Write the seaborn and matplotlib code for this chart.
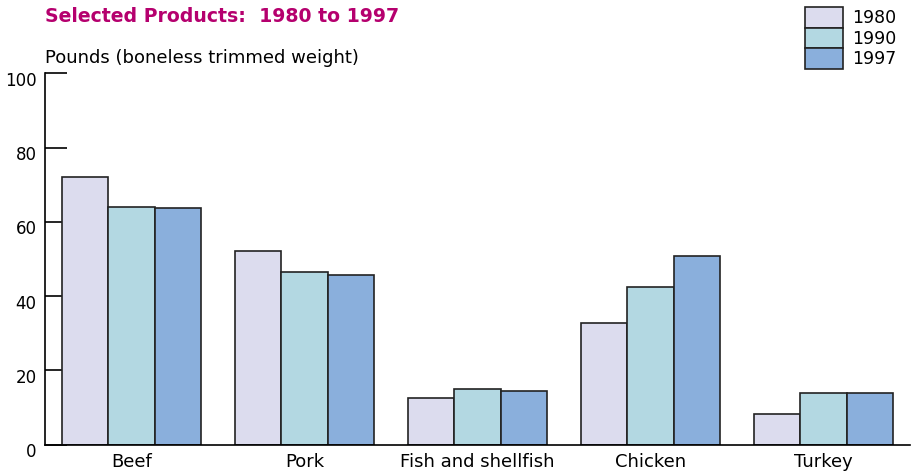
import pandas as pd
import seaborn as sns
import matplotlib.pyplot as plt
import matplotlib.transforms as mtransforms

# data
products = ["Beef", "Pork", "Fish and shellfish", "Chicken", "Turkey"]
years = ["1980", "1990", "1997"]
pounds_1980 = [72.1, 52.1, 12.4, 32.7, 8.1]
pounds_1990 = [64.0, 46.4, 15.0, 42.4, 13.8]
pounds_1997 = [63.8, 45.6, 14.5, 50.9, 13.9]
yticks = [0, 20, 40, 60, 80, 100]

colors = ["#dcdcee", "#b3d8e2", "#8aafdc"]
title_color = "#b5006e"

sns.set_style("white")
plt.rcParams['font.family'] = ['DejaVu Sans']
plt.rcParams['text.color'] = "black"
plt.rcParams['xtick.color'] = "black"
plt.rcParams['ytick.color'] = "black"

df = pd.DataFrame({
    "product": products * 3,
    "year": [years[0]] * 5 + [years[1]] * 5 + [years[2]] * 5,
    "pounds": pounds_1980 + pounds_1990 + pounds_1997,
})

fig = plt.figure(figsize=(9.11, 4.76), dpi=100)
ax = fig.add_axes([45 / 911, 1 - 444.5 / 476, 865 / 911, 371.2 / 476])

sns.barplot(data=df, x="product", y="pounds", hue="year", order=products,
            hue_order=years, palette=colors, width=0.8, gap=0,
            edgecolor="#222222", linewidth=1.2, saturation=1, ax=ax)

ax.set_xlim(-0.5, 4.5)
ax.set_ylim(0, 100)
ax.set_yticks(yticks)
ax.set_xlabel("")
ax.set_ylabel("")

for side in ["top", "right"]:
    ax.spines[side].set_visible(False)
for side in ["left", "bottom"]:
    ax.spines[side].set_color("black")
    ax.spines[side].set_linewidth(1.2)

ax.tick_params(axis="y", direction="in", length=16, width=1.2, color="black",
               labelcolor="black", left=True, labelsize=12, pad=6)
ax.tick_params(axis="x", length=0, labelsize=13, labelcolor="black", pad=6)

# y tick labels sit a little below their ticks
offset = mtransforms.ScaledTranslation(0, -0.055, fig.dpi_scale_trans)
for lab in ax.get_yticklabels():
    lab.set_transform(lab.get_transform() + offset)

# legend: stacked boxes top right
handles, labels = ax.get_legend_handles_labels()
ax.legend(handles, labels, loc="upper left", bbox_to_anchor=(805 / 911, 1 - 7 / 476),
          bbox_transform=fig.transFigure, frameon=False, fontsize=12.5,
          handlelength=2.2, handleheight=1.45, labelspacing=0, borderpad=0,
          handletextpad=0.5, borderaxespad=0)

fig.text(45 / 911, 1 - 16 / 476, "Selected Products:  1980 to 1997", color=title_color,
         fontsize=13.6, fontweight="bold", va="center", ha="left")
fig.text(45 / 911, 1 - 58 / 476, "Pounds (boneless trimmed weight)", fontsize=13,
         va="center", ha="left")

fig.savefig("out.png", dpi=100)
